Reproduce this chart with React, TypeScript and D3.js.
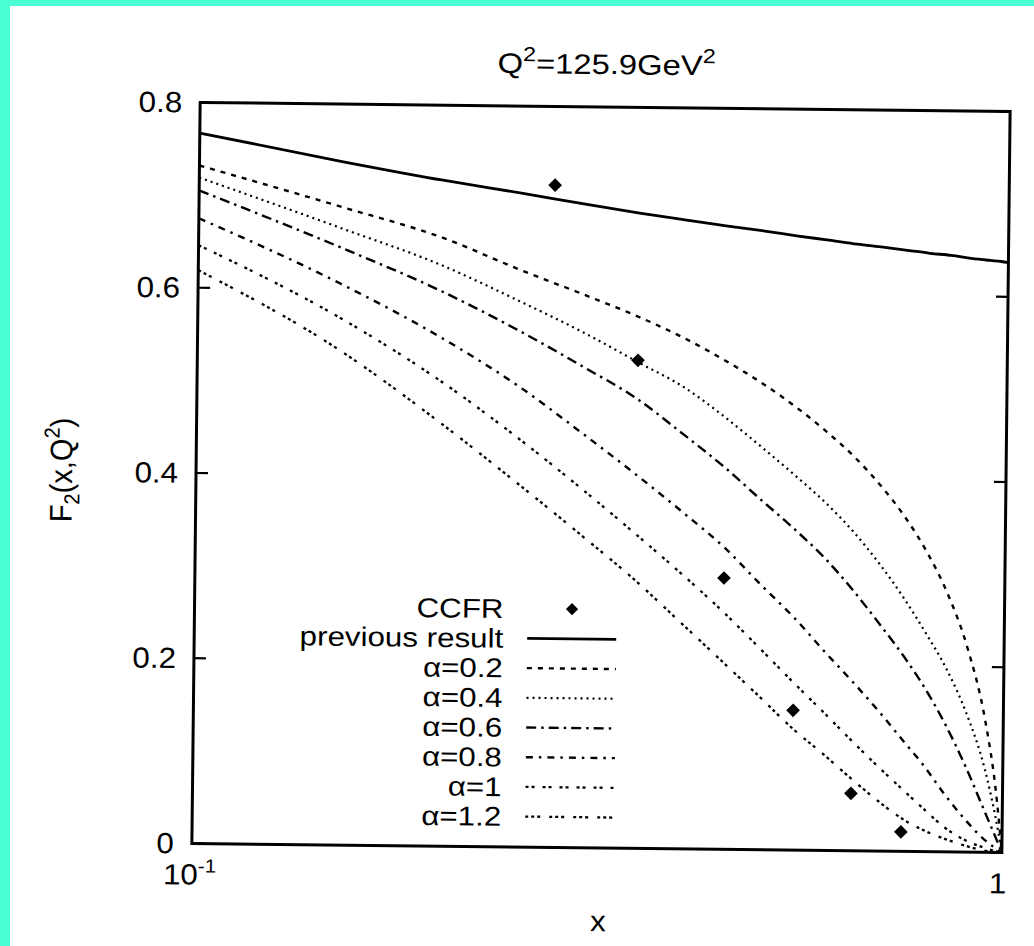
import React from "react";
import * as d3 from "d3";

// F2(x,Q^2) at Q^2 = 125.9 GeV^2, CCFR points vs model curves (scanned figure look)
const W = 1034;
const H = 946;

const xGrid = [0.1, 0.15, 0.2, 0.25, 0.3, 0.35, 0.4, 0.45, 0.5, 0.55, 0.6, 0.65, 0.7, 0.75, 0.8, 0.85, 0.9, 0.95, 0.98, 1];
const previousResult = [0.767, 0.738, 0.719, 0.706, 0.695, 0.686, 0.679, 0.673, 0.668, 0.663, 0.659, 0.655, 0.652, 0.649, 0.646, 0.644, 0.641, 0.639, 0.638, 0.637];
const alpha02 = [0.732, 0.689, 0.657, 0.623, 0.597, 0.574, 0.551, 0.527, 0.503, 0.478, 0.452, 0.425, 0.395, 0.362, 0.324, 0.279, 0.222, 0.142, 0.07, 0];
const alpha04 = [0.719, 0.666, 0.627, 0.589, 0.556, 0.525, 0.498, 0.466, 0.434, 0.404, 0.375, 0.344, 0.31, 0.274, 0.236, 0.197, 0.15, 0.09, 0.04, 0];
const alpha06 = [0.705, 0.645, 0.599, 0.557, 0.519, 0.485, 0.447, 0.412, 0.377, 0.346, 0.315, 0.281, 0.246, 0.212, 0.176, 0.136, 0.092, 0.045, 0.018, 0];
const alpha08 = [0.675, 0.606, 0.549, 0.497, 0.447, 0.403, 0.363, 0.326, 0.286, 0.251, 0.215, 0.183, 0.152, 0.121, 0.092, 0.061, 0.035, 0.014, 0.005, 0];
const alpha10 = [0.646, 0.569, 0.502, 0.441, 0.387, 0.339, 0.296, 0.256, 0.217, 0.181, 0.149, 0.119, 0.092, 0.068, 0.046, 0.026, 0.013, 0.005, 0.0015, 0];
const alpha12 = [0.619, 0.534, 0.457, 0.392, 0.337, 0.289, 0.243, 0.202, 0.165, 0.131, 0.104, 0.078, 0.055, 0.036, 0.023, 0.014, 0.007, 0.002, 0.0005, 0];

const ccfrX = [0.275, 0.35, 0.45, 0.55, 0.65, 0.75];
const ccfrY = [0.715, 0.527, 0.293, 0.151, 0.062, 0.021];

const yTicks = [0, 0.2, 0.4, 0.6, 0.8];
const seriesLabels = ["previous result", "\u03b1=0.2", "\u03b1=0.4", "\u03b1=0.6", "\u03b1=0.8", "\u03b1=1", "\u03b1=1.2"];
const seriesValues = [previousResult, alpha02, alpha04, alpha06, alpha08, alpha10, alpha12];
const dashes = ["none", "5,6", "2,4", "10,5,2.5,5", "7,6,2.5,6", "3,3,3,8", "3,3,3,3,3,9"];
const widths = [2.8, 2.4, 2.2, 2.4, 2.4, 2.3, 2.3];

const FONT = "'Liberation Sans', Arial, Helvetica, sans-serif";

function T({ x, y, size = 29, anchor = "start", rotate = 0, stretch = 1.08, children }: any) {
  return (
    <text
      transform={`translate(${x},${y}) scale(${stretch},1)${rotate ? ` rotate(${rotate})` : ""}`}
      fontFamily={FONT}
      fontSize={size}
      textAnchor={anchor}
      fill="#000"
    >
      {children}
    </text>
  );
}

export default function App() {
  const m = { left: 196, right: 1006, top: 107, bottom: 848 };
  const x = d3.scaleLog().domain([0.1, 1]).range([m.left, m.right]);
  const y = d3.scaleLinear().domain([0, 0.8]).range([m.bottom, m.top]);

  const line = d3
    .line<number>()
    .x((_, i) => x(xGrid[i]))
    .y((d) => y(d))
    .curve(d3.curveMonotoneX);

  const diamond = d3.symbol().type(d3.symbolDiamond2).size(120)();
  const legDiamond = d3.symbol().type(d3.symbolDiamond2).size(95)();

  const legRight = 505;
  const legX0 = 529;
  const legX1 = 618;
  const legY0 = 609.5;
  const legStep = 29.7;

  return (
    <svg width={W} height={H} style={{ position: "absolute", left: 0, top: 0, background: "#fff" }}>
      <defs>
        <clipPath id="plot">
          <rect x={m.left} y={m.top} width={m.right - m.left} height={m.bottom - m.top} />
        </clipPath>
      </defs>
      <rect x={0} y={0} width={W} height={H} fill="#fff" />

      <g transform="rotate(0.64, 601, 477)">
        {/* title */}
        <T x={602} y={74} size={28} stretch={1.17} anchor="middle">
          Q<tspan dy={-12} fontSize={20}>2</tspan>
          <tspan dy={12}>=125.9GeV</tspan>
          <tspan dy={-12} fontSize={20}>2</tspan>
        </T>

        {/* curves */}
        <g clipPath="url(#plot)">
          {seriesValues.map((vals, i) => (
            <path
              key={i}
              d={line(vals) || ""}
              fill="none"
              stroke="#000"
              strokeWidth={widths[i]}
              strokeDasharray={dashes[i]}
            />
          ))}
        </g>

        {/* CCFR points */}
        {ccfrX.map((xv, i) => (
          <path key={i} d={diamond || ""} transform={`translate(${x(xv)},${y(ccfrY[i])})`} fill="#000" />
        ))}

        {/* frame and ticks */}
        <rect
          x={m.left}
          y={m.top}
          width={m.right - m.left}
          height={m.bottom - m.top}
          fill="none"
          stroke="#000"
          strokeWidth={3}
        />
        {yTicks.map((t) => (
          <g key={t}>
            <line x1={m.left} x2={m.left + 12} y1={y(t)} y2={y(t)} stroke="#000" strokeWidth={2.2} />
            <line x1={m.right} x2={m.right - 12} y1={y(t)} y2={y(t)} stroke="#000" strokeWidth={2.2} />
            <T x={178} y={y(t) + 10} anchor="end">
              {t === 0 ? "0" : d3.format(".1f")(t)}
            </T>
          </g>
        ))}

        {/* x tick labels */}
        <T x={x(0.1) - 2} y={889} anchor="middle">
          10<tspan dy={-12} fontSize={19}>-1</tspan>
        </T>
        <T x={x(1) - 4} y={889} anchor="middle">
          1
        </T>
        <T x={603} y={931} anchor="middle">
          x
        </T>

        {/* y label */}
        <T x={72} y={476} anchor="middle" rotate={-90}>
          F<tspan dy={7} fontSize={20}>2</tspan>
          <tspan dy={-7}>(x,Q</tspan>
          <tspan dy={-12} fontSize={20}>2</tspan>
          <tspan dy={12}>)</tspan>
        </T>

        {/* legend */}
        <T x={legRight} y={legY0 + 9.5} size={27} stretch={1.16} anchor="end">
          CCFR
        </T>
        <path d={legDiamond || ""} transform={`translate(${(legX0 + legX1) / 2},${legY0})`} fill="#000" />
        {seriesLabels.map((lab, i) => {
          const ly = legY0 + (i + 1) * legStep;
          return (
            <g key={lab}>
              <T x={legRight} y={ly + 9.5} size={27} stretch={1.16} anchor="end">
                {lab}
              </T>
              <line
                x1={legX0}
                x2={legX1}
                y1={ly}
                y2={ly}
                stroke="#000"
                strokeWidth={widths[i]}
                strokeDasharray={dashes[i]}
              />
            </g>
          );
        })}
      </g>

      {/* scan border */}
      <rect x={0} y={0} width={10} height={H} fill="#4AFFD3" />
      <rect x={0} y={0} width={W} height={6} fill="#4AFFD3" />
    </svg>
  );
}
